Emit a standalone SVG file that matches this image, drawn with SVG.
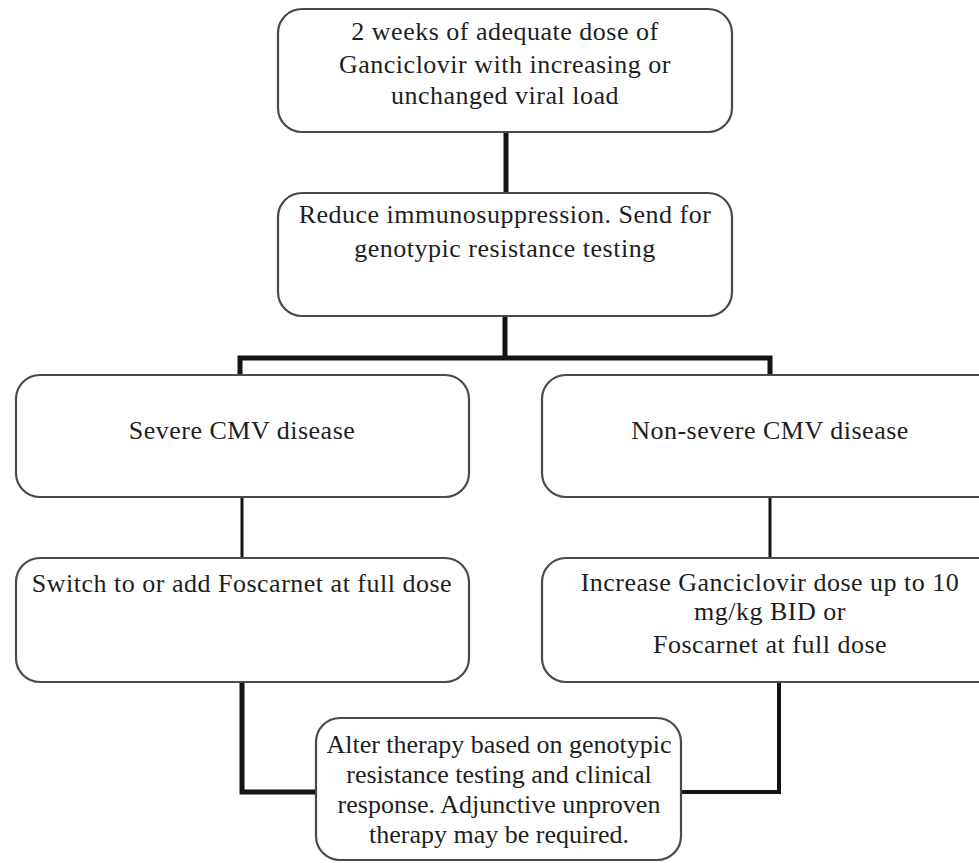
<svg xmlns="http://www.w3.org/2000/svg" width="979" height="863" viewBox="0 0 979 863">
<style>
.box{fill:#fff;stroke:#4a4a4a;stroke-width:2.2}
.t{font-family:'Liberation Serif',serif;font-size:26px;fill:#1e1e1e;text-anchor:middle;letter-spacing:0.5px}
.t0{letter-spacing:0}
.c{fill:none;stroke:#141414;stroke-linejoin:miter}
</style>
<rect width="979" height="863" fill="#fff"/>
<g id="connectors">
<path class="c" stroke-width="5" d="M506,132 V193"/>
<path class="c" stroke-width="5" d="M505,316 V358"/>
<path class="c" stroke-width="5" d="M240,376 V358 H770 V376"/>
<path class="c" stroke-width="3" d="M242,497 V558"/>
<path class="c" stroke-width="3" d="M770,497 V558"/>
<path class="c" stroke-width="5" d="M242,682 V792 H316"/>
<path class="c" stroke-width="4" d="M779,682 V792 H681"/>
</g>
<g id="n1">
<rect class="box" x="278" y="9" width="454" height="123" rx="24"/>
<text class="t" x="505" y="40">2 weeks of adequate dose of</text>
<text class="t" x="505" y="73">Ganciclovir with increasing or</text>
<text class="t" x="505" y="104">unchanged viral load</text>
</g>
<g id="n2">
<rect class="box" x="278" y="193" width="454" height="123" rx="24"/>
<text class="t" x="505" y="223">Reduce immunosuppression. Send for</text>
<text class="t" x="505" y="257">genotypic resistance testing</text>
</g>
<g id="n3">
<rect class="box" x="16" y="375" width="453" height="122" rx="24"/>
<text class="t" x="242" y="439">Severe CMV disease</text>
</g>
<g id="n4">
<rect class="box" x="542" y="375" width="470" height="122" rx="24"/>
<text class="t" x="770" y="439">Non-severe CMV disease</text>
</g>
<g id="n5">
<rect class="box" x="16" y="558" width="453" height="124" rx="24"/>
<text class="t" x="242" y="592">Switch to or add Foscarnet at full dose</text>
</g>
<g id="n6">
<rect class="box" x="542" y="558" width="470" height="124" rx="24"/>
<text class="t" x="770" y="591">Increase Ganciclovir dose up to 10</text>
<text class="t" x="770" y="620">mg/kg BID or</text>
<text class="t" x="770" y="653">Foscarnet at full dose</text>
</g>
<g id="n7">
<rect class="box" x="316" y="718" width="365" height="142" rx="24"/>
<text class="t t0" x="499" y="753">Alter therapy based on genotypic</text>
<text class="t t0" x="499" y="783">resistance testing and clinical</text>
<text class="t t0" x="499" y="813">response. Adjunctive unproven</text>
<text class="t t0" x="499" y="843">therapy may be required.</text>
</g>
</svg>
